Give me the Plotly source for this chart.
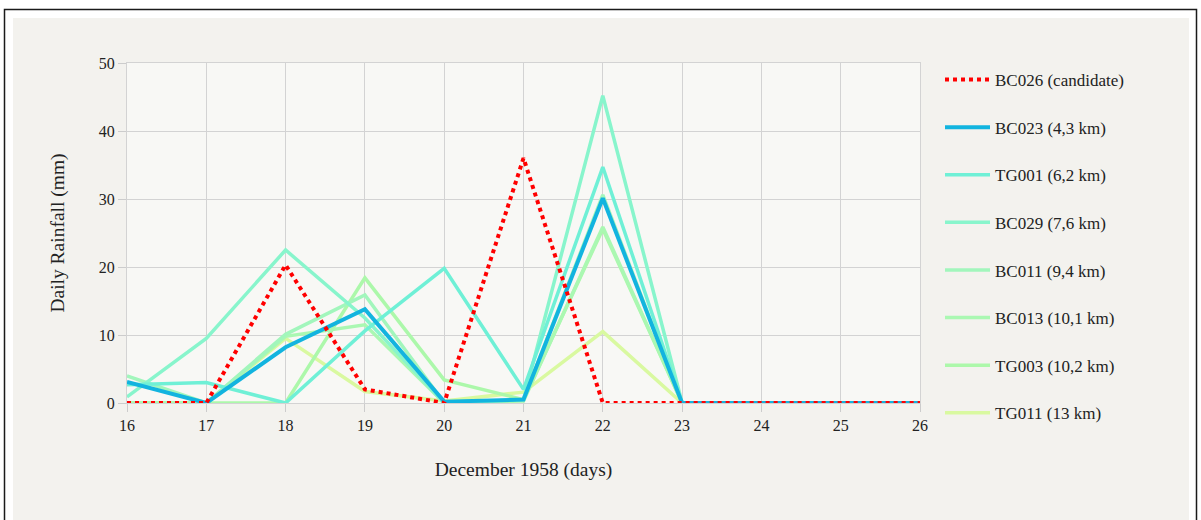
import plotly.graph_objects as go

# Daily rainfall, December 1958, days 16-26
days = [16, 17, 18, 19, 20, 21, 22, 23, 24, 25, 26]

bc026 = [0, 0, 20.3, 2.0, 0, 36.0, 0, 0, 0, 0, 0]
bc023 = [3.1, 0, 8.2, 13.8, 0.2, 0.5, 30.1, 0, 0, 0, 0]
tg001 = [2.7, 3.0, 0, 10.6, 19.8, 2.0, 34.7, 0, 0, 0, 0]
bc029 = [0.9, 9.5, 22.5, 12.5, 0, 0.5, 45.2, 0, 0, 0, 0]
bc011 = [4.0, 0, 10.1, 15.9, 0, 0.5, 30.6, 0, 0, 0, 0]
bc013 = [0, 0, 9.8, 11.5, 0, 0.3, 25.9, 0, 0, 0, 0]
tg003 = [0, 0, 0, 18.4, 3.4, 0.5, 25.6, 0, 0, 0, 0]
tg011 = [0, 0, 9.5, 1.7, 0.3, 1.6, 10.5, 0, 0, 0, 0]

series_names = [
    "BC026 (candidate)", "BC023 (4,3 km)", "TG001 (6,2 km)", "BC029 (7,6 km)",
    "BC011 (9,4 km)", "BC013 (10,1 km)", "TG003 (10,2 km)", "TG011 (13 km)",
]
series_values = [bc026, bc023, tg001, bc029, bc011, bc013, tg003, tg011]
colors = ["#ff0000", "#12b4df", "#6ff0d6", "#88f5cc", "#a2f6bc", "#aaf8b2",
          "#acf8aa", "#d9f9a0"]
widths = [4, 4, 3.5, 3.5, 3.5, 3.5, 3.5, 3.5]

FONT = "Liberation Serif, DejaVu Serif, serif"

W, H = 1201, 520
L, R, T, B = 127, 281, 63, 117
PW, PH = W - L - R, H - T - B


def px_x(x):
    return (x - L) / PW


def px_y(y):
    return 1 - (y - T) / PH


fig = go.Figure()

# draw the candidate last so it sits on top; legend order set via legendrank
for i in reversed(range(len(series_names))):
    fig.add_trace(go.Scatter(
        x=days, y=series_values[i], name=series_names[i],
        mode="lines", cliponaxis=False,
        line=dict(color=colors[i], width=widths[i],
                  dash="4px,4px" if i == 0 else "solid"),
        legendgroup=series_names[i], legendrank=i + 1,
        hoverinfo="x+y+name",
    ))

shapes = [
    # outer frame
    dict(type="rect", xref="paper", yref="paper", layer="below",
         x0=px_x(4.5), x1=px_x(1196.5), y0=px_y(540), y1=px_y(9.5),
         line=dict(color="#1a1a1a", width=1.5), fillcolor="white"),
    # panel
    dict(type="rect", xref="paper", yref="paper", layer="below",
         x0=px_x(13), x1=px_x(1189), y0=px_y(540), y1=px_y(18),
         line=dict(width=0), fillcolor="#f3f2ee"),
    # plot area
    dict(type="rect", xref="paper", yref="paper", layer="below",
         x0=0, x1=1, y0=0, y1=1,
         line=dict(width=0), fillcolor="#f8f8f5"),
]

axis_common = dict(
    showgrid=True, gridcolor="#d3d3d3", gridwidth=1,
    showline=True, linecolor="#d3d3d3", linewidth=1, mirror=True,
    zeroline=False,
    ticks="outside", ticklen=8, tickcolor="#cccccc", tickwidth=1,
    tickfont=dict(family=FONT, size=16, color="#222222"),
)

fig.update_layout(
    width=W, height=H,
    margin=dict(l=L, r=R, t=T, b=B),
    paper_bgcolor="white", plot_bgcolor="rgba(0,0,0,0)",
    font=dict(family=FONT, color="#222222"),
    shapes=shapes,
    xaxis=dict(range=[16, 26], tickmode="array", tickvals=days,
               ticktext=[str(d) for d in days],
               title=dict(text="December 1958 (days)", standoff=29,
                          font=dict(family=FONT, size=19.5, color="#222222")),
               **axis_common),
    yaxis=dict(range=[0, 50], tickmode="array", tickvals=[0, 10, 20, 30, 40, 50],
               title=dict(text="Daily Rainfall (mm)", standoff=28,
                          font=dict(family=FONT, size=19.5, color="#222222")),
               **axis_common),
    legend=dict(x=px_x(940), y=px_y(62), xanchor="left", yanchor="top",
                bgcolor="rgba(0,0,0,0)", borderwidth=0,
                font=dict(family=FONT, size=17, color="#222222"),
                itemwidth=45, tracegroupgap=22.5, traceorder="grouped",
                maxheight=480),
    showlegend=True,
)

fig.write_html("out.html")
